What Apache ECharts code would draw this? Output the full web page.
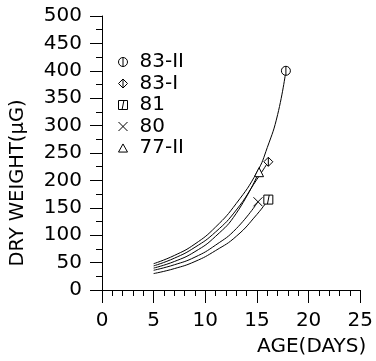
<!DOCTYPE html>
<html>
<head>
<meta charset="utf-8">
<script src="https://cdn.jsdelivr.net/npm/echarts@6/dist/echarts.min.js"></script>
<style>html,body{margin:0;padding:0;background:#fff}#c{width:376px;height:361px}</style>
</head>
<body>
<div id="c"></div>
<script>
const seriesNames = ['83-II', '83-I', '81', '80', '77-II'];
// traced points along each fitted curve [age (days), dry weight (µg)]; last point = marker
const s83II = [[5,48],[7,63],[9,84],[11,115],[13,158],[15,215],[16,260],[17,320],[17.8,400]];
const s83I  = [[5,44],[7,58],[9,78],[11,106],[13,146],[15,202],[16.1,234]];
const s81   = [[5,30],[7,39],[9,52],[11,72],[13,98],[15,138],[16.1,165]];
const s80   = [[5,36],[7,46],[9,60],[11,82],[13,112],[15.1,161]];
const s77II = [[5,40],[7,52],[9,70],[11,98],[13,140],[15.2,215]];
const xTicks = [0, 5, 10, 15, 20, 25];
const yTicks = [0, 50, 100, 150, 200, 250, 300, 350, 400, 450, 500];

const symbols = {
  '83-II': 'path://M10,5A5,5 0 1 1 0,5A5,5 0 1 1 10,5ZM5,0L5,10',
  '83-I': 'path://M5,0L10,5L5,10L0,5ZM5,0L5,10',
  '81': 'path://M0,0L10,0L10,10L0,10ZM6,0L4,10',
  '80': 'path://M0,0L10,10M10,0L0,10',
  '77-II': 'path://M5,0L10,9L0,9Z'
};
const dataByName = {'83-II': s83II, '83-I': s83I, '81': s81, '80': s80, '77-II': s77II};

const FONT = 'DejaVu Sans';
const chart = echarts.init(document.getElementById('c'), null, {renderer: 'canvas'});

const series = seriesNames.map(name => {
  const pts = dataByName[name];
  return {
    name: name,
    type: 'line',
    smooth: 0.5,
    symbol: symbols[name],
    showAllSymbol: true,
    lineStyle: {color: '#000', width: 1},
    itemStyle: {color: '#fff', borderColor: '#000', borderWidth: 1},
    emphasis: {disabled: true},
    data: pts.map((p, i) => ({value: p, symbolSize: i === pts.length - 1 ? 9 : 0}))
  };
});

chart.setOption({
  animation: false,
  backgroundColor: '#fff',
  grid: {left: 101, right: 11, top: 16, bottom: 71, containLabel: false},
  legend: {
    orient: 'vertical',
    left: 113,
    top: 47,
    itemWidth: 9,
    itemHeight: 9,
    itemGap: 1.5,
    selectedMode: false,
    textStyle: {fontFamily: FONT, fontSize: 20, color: '#000', lineHeight: 20, padding: [0, 0, 0, 7]},
    itemStyle: {color: '#fff', borderColor: '#000', borderWidth: 1},
    data: seriesNames.map(n => ({name: n, icon: symbols[n]}))
  },
  xAxis: {
    type: 'value',
    min: xTicks[0],
    max: xTicks[xTicks.length - 1],
    interval: 5,
    name: 'AGE(DAYS)',
    nameLocation: 'end',
    nameGap: 6,
    nameTextStyle: {fontFamily: FONT, fontSize: 20, color: '#000', align: 'right', verticalAlign: 'top', padding: [47, 0, 0, 0]},
    axisLine: {show: true, onZero: false, lineStyle: {color: '#000', width: 1}},
    axisTick: {show: true, inside: false, length: 13, lineStyle: {color: '#000'}},
    minorTick: {show: true, splitNumber: 5, length: 6, lineStyle: {color: '#000'}},
    splitLine: {show: false},
    axisLabel: {fontFamily: FONT, fontSize: 20, color: '#000', margin: 21}
  },
  yAxis: {
    type: 'value',
    min: yTicks[0],
    max: yTicks[yTicks.length - 1],
    interval: 50,
    name: 'DRY WEIGHT(μG)',
    nameLocation: 'middle',
    nameGap: 74,
    nameRotate: 90,
    nameTextStyle: {fontFamily: FONT, fontSize: 19.5, color: '#000', padding: [0, 60, 0, 0]},
    axisLine: {show: true, onZero: false, lineStyle: {color: '#000', width: 1}},
    axisTick: {show: true, inside: false, length: 12, lineStyle: {color: '#000'}},
    minorTick: {show: true, splitNumber: 2, length: 6, lineStyle: {color: '#000'}},
    splitLine: {show: false},
    axisLabel: {fontFamily: FONT, fontSize: 20, color: '#000', margin: 20}
  },
  series: series
});
</script>
</body>
</html>
